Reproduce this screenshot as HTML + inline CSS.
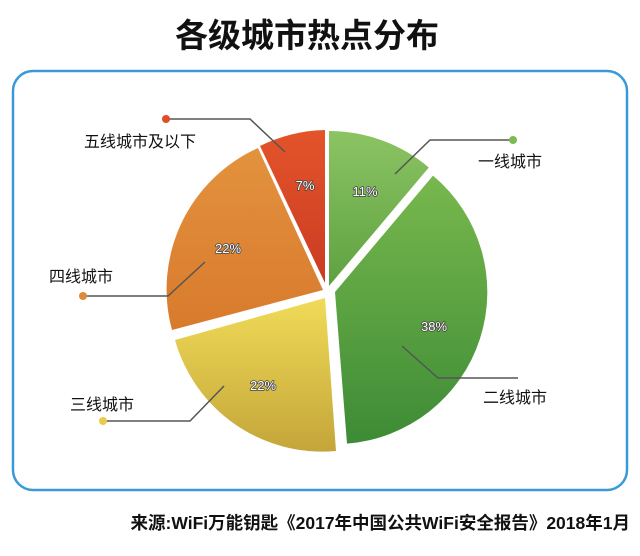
<!DOCTYPE html>
<html><head><meta charset="utf-8"><style>
body{margin:0;background:#fff;width:640px;height:551px;overflow:hidden;font-family:"Liberation Sans","Noto Sans CJK SC",sans-serif}
</style></head><body>
<svg width="640" height="551" viewBox="0 0 640 551" xmlns="http://www.w3.org/2000/svg" font-family="Liberation Sans, Noto Sans CJK SC, sans-serif">
<defs>
<linearGradient id="g1" x1="0" y1="130" x2="0" y2="300" gradientUnits="userSpaceOnUse"><stop offset="0" stop-color="#8cc463"/><stop offset="1" stop-color="#5a9e3e"/></linearGradient>
<linearGradient id="g2" x1="0" y1="170" x2="0" y2="450" gradientUnits="userSpaceOnUse"><stop offset="0" stop-color="#79b94e"/><stop offset="1" stop-color="#3c8a35"/></linearGradient>
<linearGradient id="g3" x1="0" y1="295" x2="0" y2="450" gradientUnits="userSpaceOnUse"><stop offset="0" stop-color="#f1dc58"/><stop offset="1" stop-color="#c4a63a"/></linearGradient>
<linearGradient id="g4" x1="0" y1="150" x2="0" y2="330" gradientUnits="userSpaceOnUse"><stop offset="0" stop-color="#e3923e"/><stop offset="1" stop-color="#d87a2c"/></linearGradient>
<linearGradient id="g5" x1="0" y1="130" x2="0" y2="290" gradientUnits="userSpaceOnUse"><stop offset="0" stop-color="#e4542a"/><stop offset="1" stop-color="#c93a22"/></linearGradient>
</defs>
<text x="307" y="47" text-anchor="middle" font-size="33" font-weight="bold" fill="#111">各级城市热点分布</text>
<rect x="13" y="71" width="614" height="419" rx="20" fill="none" stroke="#3a9ad9" stroke-width="2.5"/>
<path d="M329,286 L329,131 A155,155 0 0 1 428.8,167.5 Z" fill="url(#g1)"/>
<path d="M335,292 L433,175.6 A152,152 0 0 1 347,443.6 Z" fill="url(#g2)"/>
<path d="M325,298 L336,451 A153,153 0 0 1 175,340 Z" fill="url(#g3)"/>
<path d="M323,290 L172,330 A155,155 0 0 1 258,148 Z" fill="url(#g4)"/>
<path d="M325,283 L260,146 A155,155 0 0 1 325,130 Z" fill="url(#g5)"/>
<g font-size="13" fill="#fff" stroke="#444" stroke-width="1.6" paint-order="stroke" stroke-linejoin="round" text-anchor="middle">
<text x="365" y="196">11%</text>
<text x="434" y="331">38%</text>
<text x="263" y="390">22%</text>
<text x="228" y="253">22%</text>
<text x="305" y="190">7%</text>
</g>
<g stroke="#555" stroke-width="1.5" fill="none">
<polyline points="513,140 430,140 395,174"/>
<polyline points="402,346 438,378 518,378"/>
<polyline points="103,421 190,421 224,386"/>
<polyline points="83,296 168,296 205,262"/>
<polyline points="166,119 250,119 285,152"/>
</g>
<circle cx="513" cy="140" r="4" fill="#7cba52"/>
<circle cx="103" cy="421" r="4" fill="#e8cc4a"/>
<circle cx="83" cy="296" r="4" fill="#de8a38"/>
<circle cx="166" cy="119" r="4" fill="#de4e28"/>
<g font-size="16" fill="#111">
<text x="478" y="167">一线城市</text>
<text x="483" y="403">二线城市</text>
<text x="70" y="410">三线城市</text>
<text x="49" y="282">四线城市</text>
<text x="84" y="147">五线城市及以下</text>
</g>
<text x="630" y="529" text-anchor="end" font-size="17.5" font-weight="bold" fill="#111">来源:WiFi万能钥匙《2017年中国公共WiFi安全报告》2018年1月</text>
</svg>
</body></html>
